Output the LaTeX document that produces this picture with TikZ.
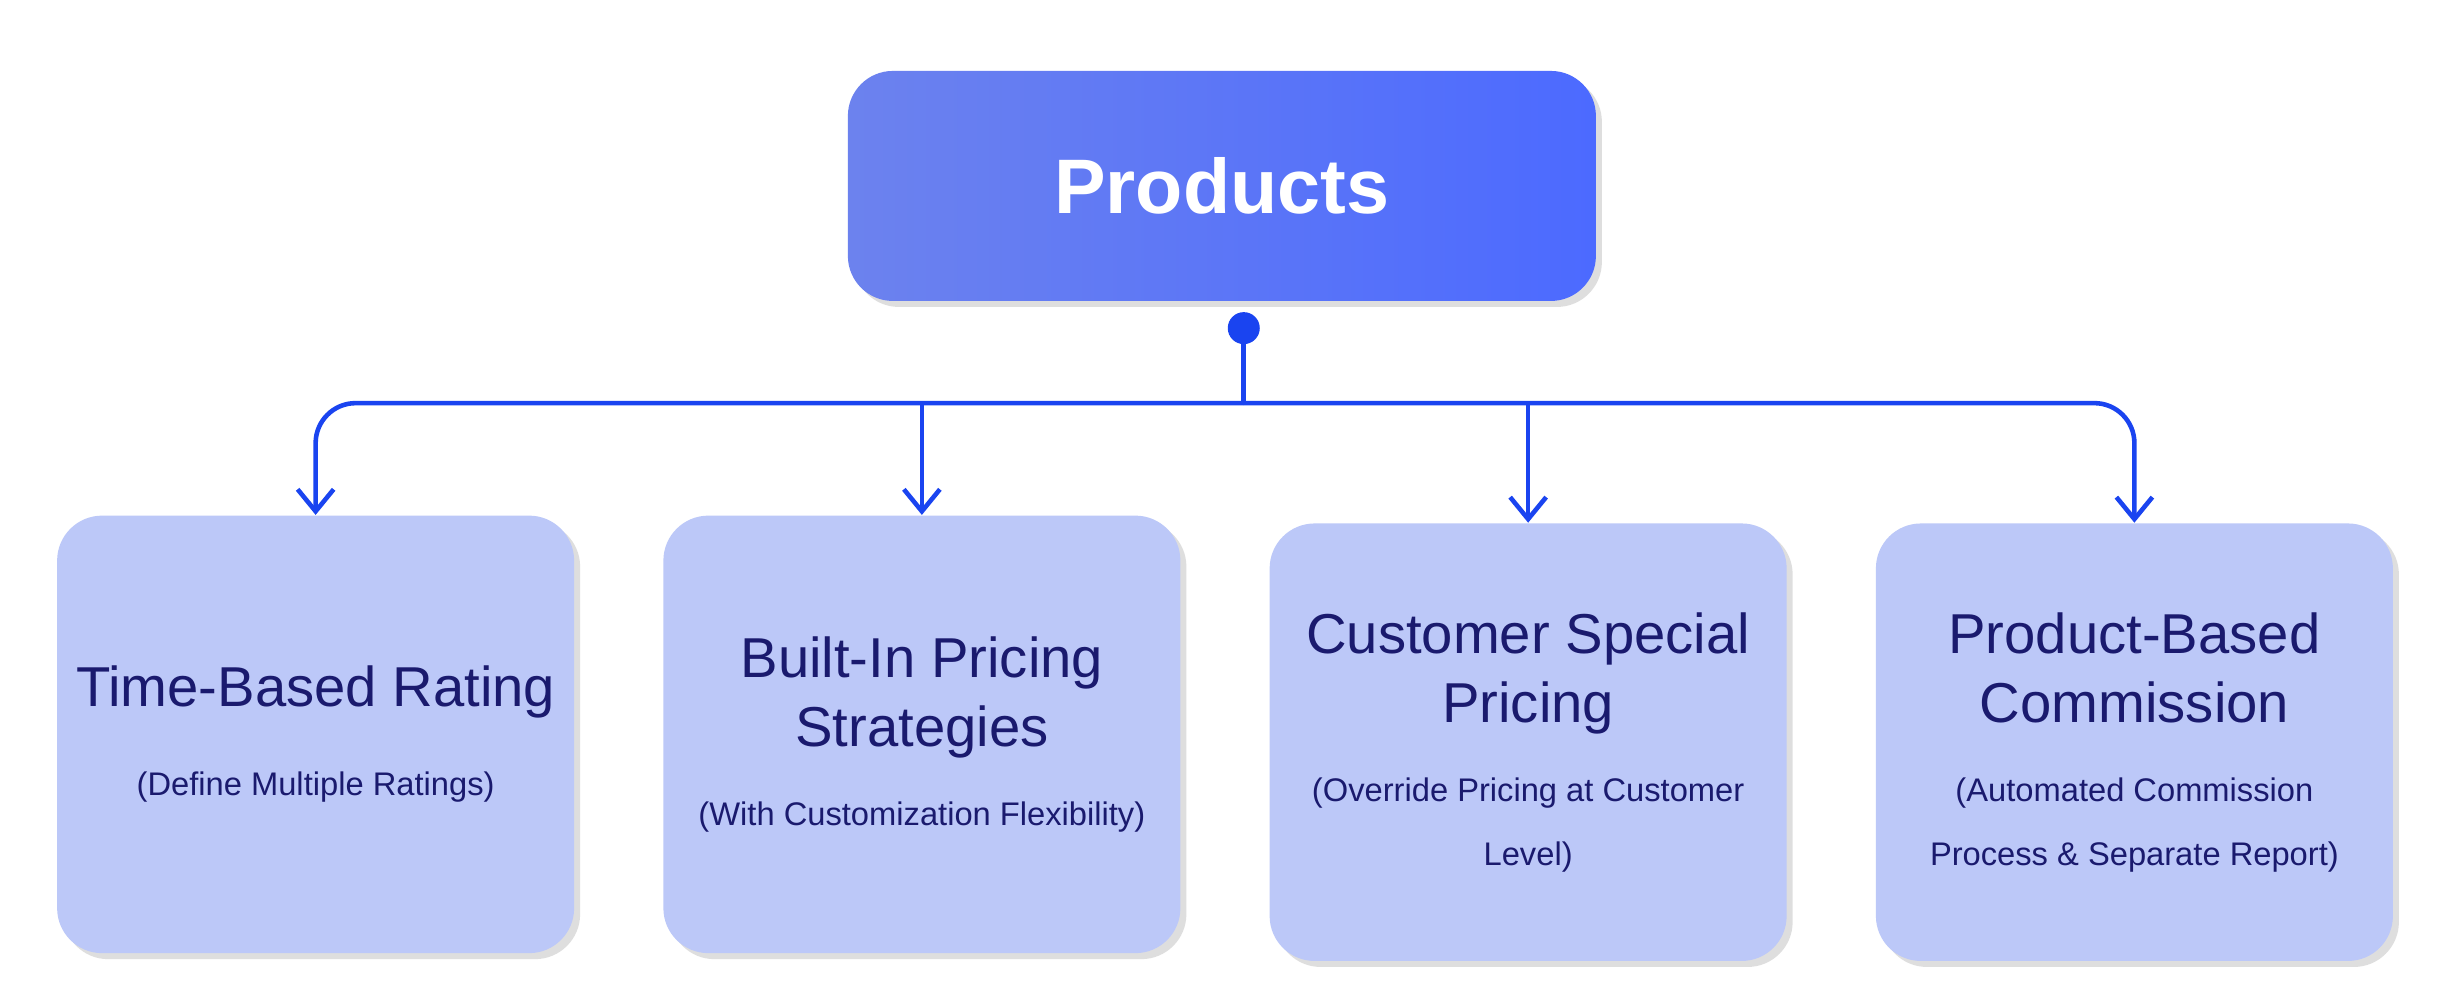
\documentclass[tikz,border=0pt]{standalone}
\usepackage{fontspec}
\setmainfont{Liberation Sans}
\usetikzlibrary{shadows,arrows.meta}
\definecolor{txt}{HTML}{1A1A6E}
\definecolor{lin}{HTML}{1A44F0}
\definecolor{kid}{HTML}{BCC8F8}
\definecolor{topL}{HTML}{6C82EE}
\definecolor{topR}{HTML}{4C6AFF}
\tikzset{
  kidbox/.style={draw=none, fill=kid, rounded corners=0.45cm, minimum width=5.17cm, minimum height=4.375cm, drop shadow={shadow xshift=0.06cm, shadow yshift=-0.06cm, fill=black!25, opacity=0.5}, align=center, text=txt, inner sep=0pt, font=\fontsize{16}{19.6}\selectfont},
  conn/.style={draw=lin, line width=1.3pt, rounded corners=0.4cm, -{Straight Barb[length=0.22cm,width=0.36cm,line width=1.3pt]}},
}
\newcommand{\smallf}{\fontsize{9.3}{12}\selectfont}
\begin{document}
\begin{tikzpicture}[x=0.015625cm,y=-0.015625cm]
\useasboundingbox (0,0) rectangle (1568,644);
\fill[white] (0,0) rectangle (1568,644);
\node (top) [left color=topL, right color=topR, rounded corners=0.45cm, minimum width=7.48cm, minimum height=2.3cm, drop shadow={shadow xshift=0.06cm, shadow yshift=-0.06cm, fill=black!25, opacity=0.5}, text=white, font=\bfseries\fontsize{22}{26}\selectfont] at (782,119) {Products};
\node (a) [kidbox] at (202,470) {Time-Based Rating\\[0.2cm] \smallf (Define Multiple Ratings)};
\node (b) [kidbox] at (590,470) {Built-In Pricing\\ Strategies\\[0.1cm] \smallf (With Customization Flexibility)};
\node (c) [kidbox] at (978,475) {Customer Special\\ Pricing\\[0.1cm] \smallf (Override Pricing at Customer\\[-0.05cm] \smallf Level)};
\node (d) [kidbox] at (1366,475) {Product-Based\\ Commission\\[0.1cm] \smallf (Automated Commission\\[-0.05cm] \smallf Process \& Separate Report)};
\coordinate (dot) at (796,210);
\coordinate (j) at (796,258);
\fill[lin] (dot) circle (0.16cm);
\draw[lin,line width=1.3pt] (dot) -- (j);
\draw[conn] (j) -- (202,258) -- (a.north);
\draw[conn] (j) -- (1366,258) -- (d.north);
\draw[conn,rounded corners=0pt] (590,258) -- (b.north);
\draw[conn,rounded corners=0pt] (978,258) -- (c.north);
\end{tikzpicture}
\end{document}
